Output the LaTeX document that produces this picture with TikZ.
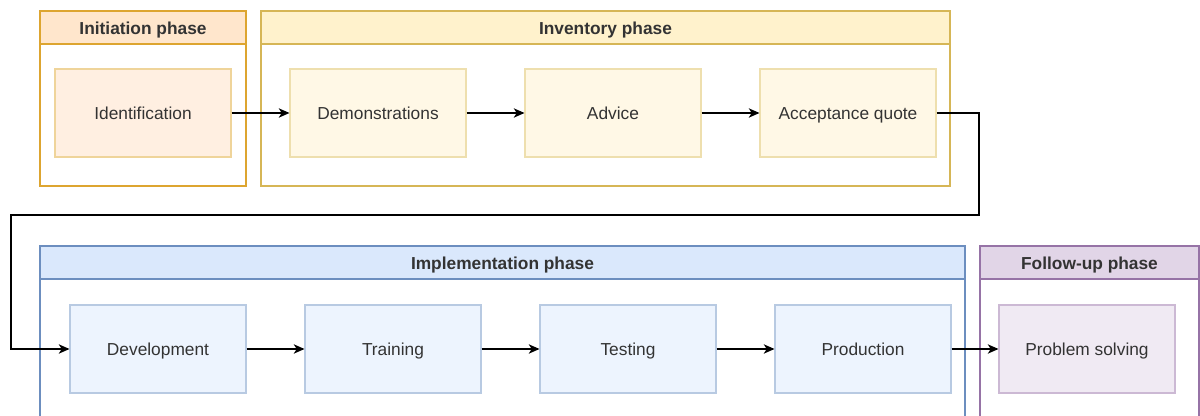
\documentclass[tikz,border=0pt]{standalone}
\usepackage{fontspec}
\setmainfont{Liberation Sans}
\usetikzlibrary{arrows.meta}

\definecolor{orStroke}{HTML}{DDA530}
\definecolor{orHead}{HTML}{FFE6CC}
\definecolor{orFill}{HTML}{FFEFE1}
\definecolor{orLine}{HTML}{EFD49A}
\definecolor{ylStroke}{HTML}{D6B656}
\definecolor{ylHead}{HTML}{FFF2CC}
\definecolor{ylFill}{HTML}{FFF8E6}
\definecolor{ylLine}{HTML}{EEDFAE}
\definecolor{blStroke}{HTML}{6C8EBF}
\definecolor{blHead}{HTML}{DAE8FC}
\definecolor{blFill}{HTML}{EDF4FE}
\definecolor{blLine}{HTML}{B8CAE2}
\definecolor{puStroke}{HTML}{9673A6}
\definecolor{puHead}{HTML}{E1D5E7}
\definecolor{puFill}{HTML}{F0EAF3}
\definecolor{puLine}{HTML}{CCB9D4}
\definecolor{txt}{HTML}{333333}

\tikzset{
  frame/.style={line width=1pt},
  header/.style={line width=1pt, font=\fontsize{13}{15}\selectfont\bfseries, text=txt,
    text height=12.4pt, text depth=2.8pt, inner sep=0pt},
  stepbox/.style={draw, line width=0.8pt, minimum width=176*0.75pt, minimum height=88*0.75pt,
    font=\fontsize{13}{15}\selectfont, text=txt, inner sep=0pt, text height=12.4pt, text depth=2.8pt},
  flow/.style={line width=1pt, -{Stealth[length=8pt, width=7pt, inset=2.2pt]}}
}

\begin{document}
\begin{tikzpicture}[x=0.75pt, y=-0.75pt]
\useasboundingbox (0,0) rectangle (1200,416);
\fill[white] (0,0) rectangle (1200,416);

% Initiation phase
\draw[frame, draw=orStroke] (40,11) rectangle (246,186);
\draw[header, draw=orStroke, fill=orHead] (40,11) rectangle (246,44);
\node[header, draw=none] (hInit) at (143,28) {Initiation phase};

% Inventory phase
\draw[frame, draw=ylStroke] (261,11) rectangle (950,186);
\draw[header, draw=ylStroke, fill=ylHead] (261,11) rectangle (950,44);
\node[header, draw=none] (hInv) at (605.5,28) {Inventory phase};

% Implementation phase (runs past the lower edge)
\draw[frame, draw=blStroke] (40,430) -- (40,246) -- (965,246) -- (965,430);
\draw[header, draw=blStroke, fill=blHead] (40,246) rectangle (965,279);
\node[header, draw=none] (hImp) at (502.5,263) {Implementation phase};

% Follow-up phase
\draw[frame, draw=puStroke] (980,430) -- (980,246) -- (1199,246) -- (1199,430);
\draw[header, draw=puStroke, fill=puHead] (980,246) rectangle (1199,279);
\node[header, draw=none] (hFol) at (1089.5,263) {Follow-up phase};

% Steps
\node[stepbox, draw=orLine, fill=orFill] (ident) at (143,113) {Identification};
\node[stepbox, draw=ylLine, fill=ylFill] (demo) at (378,113) {Demonstrations};
\node[stepbox, draw=ylLine, fill=ylFill] (advice) at (613,113) {Advice};
\node[stepbox, draw=ylLine, fill=ylFill] (accept) at (848,113) {Acceptance quote};

\node[stepbox, draw=blLine, fill=blFill] (dev) at (158,349) {Development};
\node[stepbox, draw=blLine, fill=blFill] (train) at (393,349) {Training};
\node[stepbox, draw=blLine, fill=blFill] (test) at (628,349) {Testing};
\node[stepbox, draw=blLine, fill=blFill] (prod) at (863,349) {Production};
\node[stepbox, draw=puLine, fill=puFill] (solve) at (1087,349) {Problem solving};

% Connectors
\coordinate (r1) at (979,113);
\coordinate (r2) at (979,215);
\coordinate (r3) at (11,215);
\coordinate (r4) at (11,349);

\draw[flow] (ident) -- (demo);
\draw[flow] (demo) -- (advice);
\draw[flow] (advice) -- (accept);
\draw[flow] (accept.east) -- (r1) -- (r2) -- (r3) -- (r4) -- (dev.west);
\draw[flow] (dev) -- (train);
\draw[flow] (train) -- (test);
\draw[flow] (test) -- (prod);
\draw[flow] (prod) -- (solve);
\end{tikzpicture}
\end{document}
